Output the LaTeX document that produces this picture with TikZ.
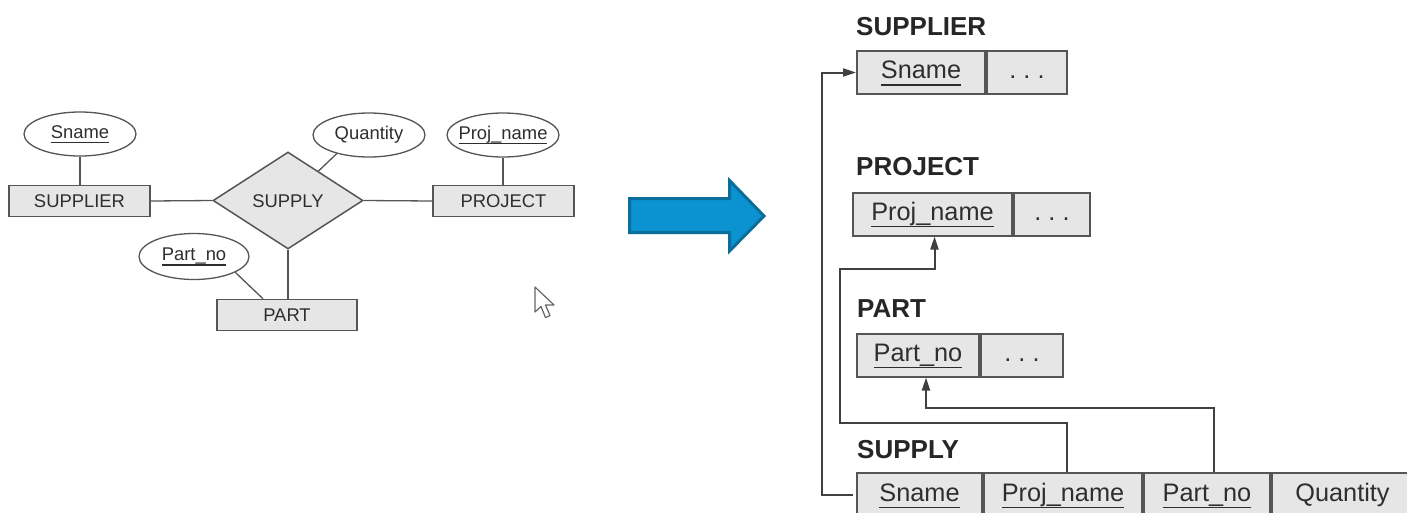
\documentclass[tikz,border=0pt]{standalone}
\usepackage{fontspec}
\setmainfont{Liberation Sans}
\usetikzlibrary{shapes.geometric,arrows.meta}
\definecolor{boxfill}{HTML}{E6E6E6}
\definecolor{boxline}{HTML}{555555}
\definecolor{txt}{HTML}{2E2E2E}
\definecolor{bluefill}{HTML}{0B93D1}
\definecolor{blueline}{HTML}{0A6E9A}
\newcommand\myul[1]{\setbox0\hbox{#1}\leavevmode\rlap{\rule[-0.28em]{\wd0}{0.075em}}\box0}
\begin{document}
\begin{tikzpicture}[x=1pt,y=-1pt,
 lfont/.style={font=\fontsize{18.4}{20}\selectfont, text=txt},
 rfont/.style={font=\fontsize{25.3}{28}\selectfont, text=txt},
 entity/.style={lfont, draw=boxline, fill=boxfill, line width=1.5pt, minimum height=31pt, inner sep=0pt, text height=13.2pt, text depth=0pt},
 attr/.style={lfont, ellipse, draw=boxline, fill=white, line width=1.3pt, inner sep=0pt, minimum width=112pt, minimum height=44pt, text height=13.2pt, text depth=5.2pt},
 rel/.style={lfont, diamond, aspect=1.5, draw=boxline, fill=boxfill, line width=1.5pt, inner sep=0pt, minimum width=150pt, minimum height=97pt, text height=13.2pt, text depth=0pt},
 eline/.style={draw=boxline, line width=1.3pt},
 cell/.style={rfont, draw=boxline, fill=boxfill, line width=2pt, inner sep=0pt, minimum height=43pt, text height=19pt, text depth=6.3pt, anchor=west},
 head/.style={font=\fontsize{26}{30}\selectfont\bfseries, text=black!85, anchor=base west, inner sep=0pt},
 fk/.style={draw=black!75, line width=2pt, -{Triangle[length=13pt,width=8pt]}},
 cursorshape/.style={fill=white, draw=black!60, line width=1.2pt, line join=round}
]
\fill[white] (0,0) rectangle (1407,512);
\useasboundingbox (0,0) rectangle (1407,512);

% ---------- ER diagram ----------
\node[attr] (sname) at (80,134) {\makebox[0pt]{\myul{Sname}}};
\node[entity, minimum width=141pt] (supplier) at (79.5,201) {SUPPLIER};
\node[rel] (supply) at (288,200.5) {SUPPLY};
\node[attr] (quantity) at (369,135) {\makebox[0pt]{Quantity}};
\node[attr] (projname) at (503,135) {\makebox[0pt]{\myul{Proj\_name}}};
\node[entity, minimum width=141pt] (project) at (503.5,201) {PROJECT};
\node[attr, minimum width=110pt, minimum height=46pt] (partno) at (194,256.5) {\makebox[0pt]{\myul{Part\_no}}};
\node[entity, minimum width=140pt] (part) at (287,315) {PART};

\draw[eline] (sname.south) -- (sname.south |- supplier.north);
\draw[eline] (supplier.east) -- (supply.west);
\draw[eline] (supply.east) -- (project.west);
\draw[eline] (projname.south) -- (projname.south |- project.north);
\draw[eline] (quantity.210) -- (supply.44);
\draw[eline] (supply.south) -- (supply.south |- part.north);
\draw[eline] (partno.339) -- ([xshift=-24pt]part.north);

% mouse cursor
\draw[cursorshape] (535,287) -- (535,312) -- (541,306.5) -- (545.5,317.5) -- (550,315.5) -- (545.5,305) -- (554,305) -- cycle;

% ---------- blue arrow ----------
\draw[fill=bluefill, draw=blueline, line width=3pt, line join=miter]
  (629.5,198.5) -- (729.5,198.5) -- (729.5,180.5) -- (764,216) -- (729.5,251) -- (729.5,232.5) -- (629.5,232.5) -- cycle;

% ---------- relational schema ----------
\node[head] (hsupplier) at (856,35) {SUPPLIER};
\node[cell, minimum width=128pt] (supSname) at (856,72.5) {\myul{Sname}};
\node[cell, minimum width=80pt] (supDots) at (supSname.east) {.\ .\ .};

\node[head] (hproject) at (856,175) {PROJECT};
\node[cell, minimum width=159pt] (pProj) at (852,214) {\myul{Proj\_name}};
\node[cell, minimum width=76pt] (pDots) at (pProj.east) {.\ .\ .};

\node[head] (hpart) at (857,317) {PART};
\node[cell, minimum width=122pt] (paPart) at (856,355) {\myul{Part\_no}};
\node[cell, minimum width=82pt] (paDots) at (paPart.east) {.\ .\ .};

\node[head] (hsupply) at (857,458) {SUPPLY};
\node[cell, minimum width=125pt, minimum height=44pt] (sSname) at (856,495) {\myul{Sname}};
\node[cell, minimum width=158pt, minimum height=44pt] (sProj) at (sSname.east) {\myul{Proj\_name}};
\node[cell, minimum width=126pt, minimum height=44pt] (sPart) at (sProj.east) {\myul{Part\_no}};
\node[cell, minimum width=141pt, minimum height=44pt] (sQty) at (sPart.east) {Quantity};

\coordinate (c0) at (822,497);
\coordinate (c1) at (840,423);
\coordinate (c2) at (840,269);
\coordinate (c3) at (926,408);

\draw[fk, shorten <=3pt] (sSname.west) -- (sSname.west -| c0) |- (supSname.west);
\draw[fk] ([xshift=4pt]sProj.north) |- (c1) -- (c2) -| ([xshift=2pt]pProj.south);
\draw[fk] ([xshift=7pt]sPart.north) |- (c3) -- (c3 |- paPart.south);
\end{tikzpicture}
\end{document}
